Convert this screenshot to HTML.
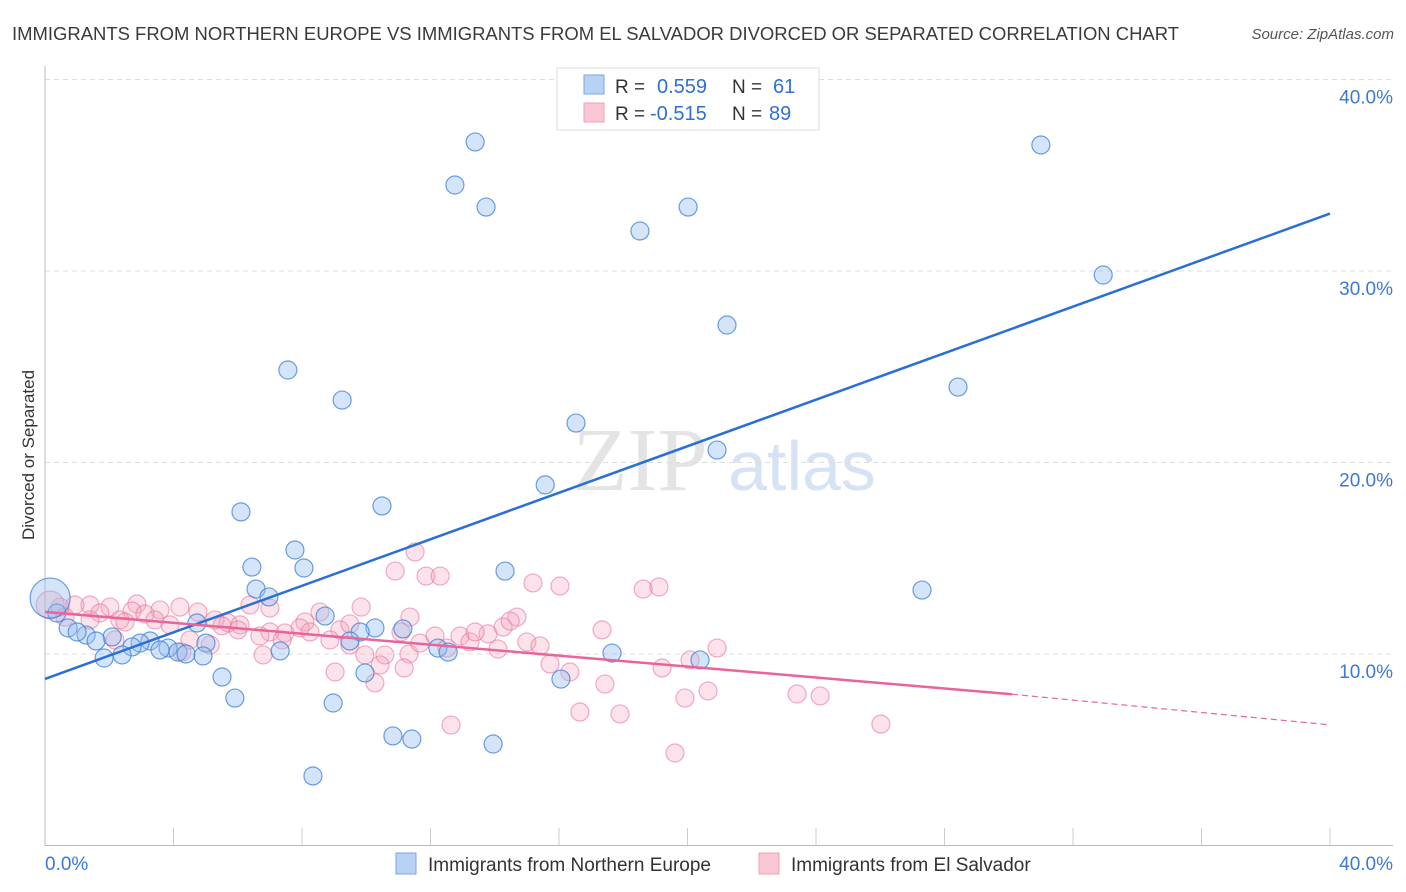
<!DOCTYPE html>
<html><head><meta charset="utf-8"><style>
body{margin:0;background:#fff;font-family:"Liberation Sans",sans-serif;}
svg{display:block}
</style></head><body>
<svg id="chart" width="1406" height="892" xmlns="http://www.w3.org/2000/svg">
<text x="12" y="40" font-size="18" fill="#3a3a3a" textLength="1167" lengthAdjust="spacingAndGlyphs">IMMIGRANTS FROM NORTHERN EUROPE VS IMMIGRANTS FROM EL SALVADOR DIVORCED OR SEPARATED CORRELATION CHART</text>
<text x="1394" y="39" font-size="15" fill="#555" text-anchor="end" font-style="italic">Source: ZipAtlas.com</text>
<text x="640" y="490" font-size="90" fill="#e4e4e4" font-family="Liberation Serif,serif" text-anchor="middle">ZIP</text>
<text x="802" y="490" font-size="70" fill="#d6e3f5" text-anchor="middle">atlas</text>
<text transform="translate(34,455) rotate(-90)" font-size="17" fill="#333" text-anchor="middle">Divorced or Separated</text>
<g id="grid"></g><g id="pts"></g><g id="lines"></g>
<g>
<rect x="557" y="68" width="262" height="62" fill="#fff" stroke="#ddd"/>
<rect x="584" y="75" width="20" height="19" fill="#b8d2f5" stroke="#7aa6e0"/>
<rect x="584" y="103" width="20" height="19" fill="#f9c6d4" stroke="#eea0b8"/>
<text x="615" y="93" font-size="19" fill="#333">R = </text><text x="657" y="93" font-size="20" fill="#2f6fd6">0.559</text>
<text x="732" y="93" font-size="19" fill="#333">N = </text><text x="773" y="93" font-size="20" fill="#2f6fd6">61</text>
<text x="615" y="120" font-size="19" fill="#333">R = </text><text x="650" y="120" font-size="20" fill="#2f6fd6">-0.515</text>
<text x="732" y="120" font-size="19" fill="#333">N = </text><text x="769" y="120" font-size="20" fill="#2f6fd6">89</text>
</g>
<g>
<rect x="396" y="853" width="20" height="21" fill="#b8d2f5" stroke="#7aa6e0"/>
<text x="428" y="871" font-size="19" fill="#333">Immigrants from Northern Europe</text>
<rect x="759" y="853" width="20" height="21" fill="#f9c6d4" stroke="#eea0b8"/>
<text x="791" y="871" font-size="19" fill="#333">Immigrants from El Salvador</text>
</g>
</svg>
<script>
const xTicks=[0,40];
const yTicks=[10,20,30,40];
const blueX=[13.39,12.76,13.73,18.52,20.02,31.00,32.94,21.23,7.56,9.25,28.42,16.53,20.92,15.57,6.10,10.49,7.78,6.44,8.06,14.32,6.57,6.97,27.30,8.72,4.73,10.27,11.14,9.81,1.28,0.72,2.09,3.27,2.96,1.59,2.71,3.83,3.58,4.14,4.39,5.01,4.92,7.32,1.84,2.40,12.23,12.55,17.65,20.39,9.49,5.51,9.96,16.06,5.91,8.97,10.83,11.42,13.95,8.34,0.37,1.00,0.16];
const blueY=[36.74,34.49,33.34,32.09,33.34,36.58,29.79,27.18,24.83,23.26,23.94,22.06,20.65,18.83,17.42,17.73,15.43,14.54,14.49,14.33,13.39,12.98,13.34,11.98,11.62,11.36,11.31,11.15,10.99,11.36,10.89,10.68,10.57,10.68,10.37,10.31,10.21,10.10,10.00,10.57,9.90,10.16,9.79,9.95,10.31,10.10,10.05,9.69,10.68,8.80,9.01,8.69,7.70,7.44,5.72,5.56,5.30,3.63,12.14,11.15,12.92];
const pinkX=[11.52,10.90,11.86,12.30,15.19,16.03,18.62,19.11,1.40,0.93,0.47,2.02,2.86,3.58,4.20,2.71,1.71,2.33,3.11,3.42,3.89,5.29,5.70,6.07,6.38,7.00,5.51,6.01,8.56,9.84,8.09,7.94,8.25,9.18,7.47,7.00,6.69,8.87,9.49,9.96,10.58,11.33,10.43,11.18,11.67,12.14,12.92,13.23,13.79,14.26,14.69,15.00,15.41,15.72,16.34,17.43,17.34,19.21,20.08,20.92,19.92,20.64,23.41,24.13,16.65,17.90,12.64,19.61,26.02,9.03,10.27,5.14,4.51,4.26,2.18,4.76,2.49,1.40,0.62,13.39,14.10,14.48,12.51,11.08,7.38,6.79,9.49,11.36,0.16];
const pinkY=[15.33,14.33,14.07,14.07,13.71,13.55,13.39,13.50,12.56,12.56,12.45,12.45,12.61,12.30,12.45,12.25,12.14,11.78,12.09,11.78,11.52,11.78,11.62,11.52,12.56,12.40,11.47,11.26,12.19,12.45,11.67,11.36,11.15,11.26,11.10,11.15,10.94,10.73,10.47,9.95,9.95,10.00,9.43,9.27,10.57,10.94,10.94,10.63,11.05,11.41,11.93,10.63,10.42,9.48,9.06,8.43,11.26,9.27,9.69,10.31,7.70,8.07,7.91,7.81,6.97,6.87,6.29,4.83,6.34,9.06,8.49,10.47,10.73,10.10,10.73,12.19,11.67,11.78,11.93,11.15,10.26,11.72,10.31,11.15,10.73,9.95,11.57,11.93,12.56];
const blueTrend=[8.7,33.0];
const pinkTrend=[12.2,7.9,6.3];
const pinkSolidEnd=30.1;
const NS="http://www.w3.org/2000/svg";
const X=v=>45+v/40*1285, Y=v=>845.5-v*19.15;
function mk(t,a,p){const e=document.createElementNS(NS,t);for(const k in a)e.setAttribute(k,a[k]);p.appendChild(e);return e;}
const grid=document.getElementById('grid');
yTicks.forEach(t=>{
  const l=mk('line',{x1:45,x2:1393,y1:Y(t),y2:Y(t),stroke:'#ddd','stroke-dasharray':'5,4'},grid);
  
  
  const tx=mk('text',{x:1393,y:Y(t)+24,'font-size':19,fill:'#3b78d8','text-anchor':'end'},grid);
  tx.textContent=t.toFixed(1)+'%';
  
  
});
mk('line',{x1:45,x2:45,y1:66,y2:846,stroke:'#bbb'},grid);
mk('line',{x1:45,x2:1393,y1:845.5,y2:845.5,stroke:'#bbb'},grid);
for(let i=1;i<=10;i++){mk('line',{x1:X(i*4),x2:X(i*4),y1:828,y2:845,stroke:'#ccc'},grid);}
xTicks.forEach((t,i)=>{
  const tx=mk('text',{x:i==0?45:1393,y:870,'font-size':19,fill:'#3b78d8','text-anchor':i==0?'start':'end'},grid);
  tx.textContent=t.toFixed(1)+'%';
  
  
});
const pts=document.getElementById('pts');
pinkX.forEach((v,i)=>{
  const c=mk('circle',{cx:X(v),cy:Y(pinkY[i]),r:i==pinkX.length-1?14:9,fill:'rgba(245,160,185,0.3)',stroke:'rgba(232,120,155,0.6)','stroke-width':1.2},pts);
  
  
});
blueX.forEach((v,i)=>{
  const c=mk('circle',{cx:X(v),cy:Y(blueY[i]),r:i==blueX.length-1?20:9,fill:'rgba(150,190,240,0.4)',stroke:'rgba(60,125,215,0.75)','stroke-width':1.2},pts);
  
  
});
const ln=document.getElementById('lines');
const b=mk('line',{x1:X(0),y1:Y(blueTrend[0]),x2:X(40),y2:Y(blueTrend[1]),stroke:'#2a6fd6','stroke-width':2.5},ln);


const p=mk('line',{x1:X(0),y1:Y(pinkTrend[0]),x2:X(pinkSolidEnd),y2:Y(pinkTrend[1]),stroke:'#e8649a','stroke-width':2.5},ln);


const pd=mk('line',{x1:X(pinkSolidEnd),y1:Y(pinkTrend[1]),x2:X(40),y2:Y(pinkTrend[2]),stroke:'#e8649a','stroke-width':1.2,'stroke-dasharray':'6,4'},ln);


</script>
</body></html>
